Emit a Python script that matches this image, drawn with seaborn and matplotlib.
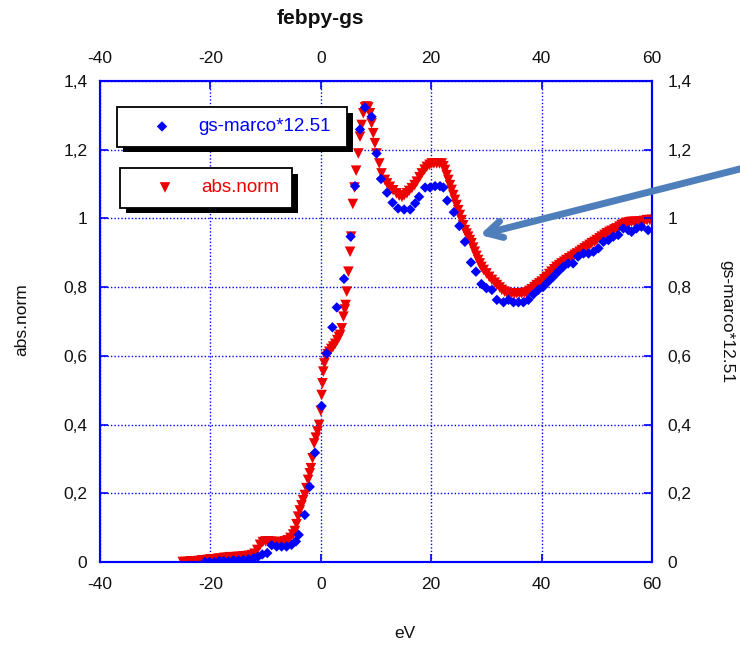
import matplotlib
matplotlib.use("Agg")
import matplotlib.pyplot as plt
import matplotlib.patheffects as pe
import seaborn as sns
import pandas as pd

# ---------------- data ----------------
red_ev = [-25.0, -24.5, -24.0, -23.5, -23.0, -22.5, -22.0, -21.5, -21.0, -20.5, -20.0, -19.5,
          -19.0, -18.5, -18.0, -17.5, -17.0, -16.5, -16.0, -15.5, -15.0, -14.5, -14.0, -13.5,
          -13.0, -12.5, -12.0, -11.5, -11.0, -10.5, -10.0, -9.5, -9.0, -8.5, -8.0, -7.5, -7.0,
          -6.5, -6.0, -5.5, -5.0, -4.7, -4.4, -4.1, -3.8, -3.5, -3.2, -2.9, -2.6, -2.3, -2.0,
          -1.8, -1.5, -1.2, -0.9, -0.6, -0.3, 0.0, 0.15, 0.3, 0.45, 0.65, 0.95, 1.25, 1.55, 1.9,
          2.25, 2.6, 3.0, 3.3, 3.5, 3.8, 4.1, 4.35, 4.5, 4.7, 5.0, 5.3, 5.5, 5.8, 6.1, 6.4, 6.8,
          7.1, 7.4, 7.7, 8.0, 8.3, 8.6, 8.9, 9.2, 9.5, 9.8, 10.1, 10.6, 11.0, 11.6, 12.0, 12.5,
          13.1, 13.7, 14.2, 14.7, 15.1, 15.6, 16.0, 16.5, 17.0, 17.4, 17.9, 18.3, 18.8, 19.2,
          19.7, 20.1, 20.5, 21.0, 21.5, 21.9, 22.2, 22.5, 22.8, 23.1, 23.4, 23.7, 24.0, 24.3,
          24.6, 24.9, 25.2, 25.5, 25.8, 26.1, 26.4, 26.7, 27.0, 27.3, 27.6, 27.9, 28.2, 28.5,
          28.8, 29.1, 29.5, 30.0, 30.5, 31.0, 31.5, 31.9, 32.4, 32.8, 33.3, 33.7, 34.2, 34.6,
          35.1, 35.5, 36.0, 36.4, 36.9, 37.3, 37.8, 38.2, 38.7, 39.1, 39.6, 40.0, 40.5, 40.9,
          41.4, 41.8, 42.3, 42.7, 43.2, 43.6, 44.1, 44.5, 45.0, 45.5, 46.0, 46.4, 46.9, 47.3,
          47.8, 48.2, 48.7, 49.1, 49.6, 50.0, 50.5, 50.9, 51.4, 51.8, 52.3, 52.7, 53.2, 53.6,
          54.1, 54.5, 55.0, 55.4, 55.9, 56.3, 56.8, 57.2, 57.7, 58.1, 58.6, 59.1, 59.6, 60.0]
red_abs = [0.0, 0.0, 0.0, 0.002, 0.002, 0.0, 0.003, 0.005, 0.005, 0.006, 0.008, 0.008,
           0.008, 0.010, 0.010, 0.012, 0.012, 0.014, 0.013, 0.014, 0.015, 0.015, 0.016, 0.017,
           0.018, 0.020, 0.024, 0.035, 0.050, 0.058, 0.060, 0.060, 0.059, 0.058, 0.058, 0.057, 0.058,
           0.060, 0.063, 0.070, 0.080, 0.090, 0.110, 0.132, 0.150, 0.165, 0.180, 0.195, 0.215, 0.239, 0.258,
           0.273, 0.302, 0.345, 0.362, 0.380, 0.399, 0.440, 0.486, 0.520, 0.554, 0.578, 0.597, 0.605, 0.612, 0.620,
           0.627, 0.635, 0.646, 0.655, 0.661, 0.680, 0.714, 0.735, 0.748, 0.787, 0.845, 0.903, 0.947, 1.042, 1.090, 1.139, 1.189,
           1.238, 1.272, 1.306, 1.323, 1.326, 1.323, 1.306, 1.277, 1.248, 1.219, 1.189, 1.160, 1.131, 1.112, 1.102, 1.092,
           1.082, 1.073, 1.066, 1.063, 1.067, 1.073, 1.080, 1.088, 1.097, 1.107, 1.120, 1.131, 1.142, 1.150,
           1.156, 1.160, 1.160, 1.160, 1.160, 1.160, 1.152, 1.141, 1.126, 1.112, 1.097, 1.083, 1.068, 1.054,
           1.039, 1.024, 1.010, 0.995, 0.980, 0.966, 0.956, 0.947, 0.937, 0.928, 0.915, 0.903, 0.891, 0.879,
           0.869, 0.859, 0.850, 0.840, 0.830, 0.821, 0.813, 0.806, 0.799, 0.792, 0.787, 0.784, 0.782, 0.782,
           0.782, 0.782, 0.782, 0.782, 0.783, 0.784, 0.789, 0.794, 0.800, 0.806, 0.811, 0.816, 0.823, 0.830,
           0.838, 0.845, 0.852, 0.859, 0.864, 0.869, 0.874, 0.879, 0.884, 0.889, 0.894, 0.898, 0.903, 0.908,
           0.913, 0.918, 0.923, 0.928, 0.932, 0.937, 0.942, 0.947, 0.952, 0.957, 0.961, 0.964, 0.968, 0.971,
           0.976, 0.981, 0.984, 0.987, 0.989, 0.990, 0.990, 0.990, 0.991, 0.991, 0.993, 0.995, 0.995, 0.996]

blue_ev = [-21.0, -20.2, -19.3, -18.4, -17.6, -16.7, -15.8, -14.9, -14.0, -13.1, -12.2, -11.4,
           -10.6, -9.7, -8.9, -8.0, -7.1, -6.2, -5.3, -4.5, -4.0, -2.9, -2.0, -1.05, 0.15, 1.07,
           2.1, 2.9, 4.2, 5.4, 6.2, 7.1, 8.0, 9.2, 10.1, 10.9, 12.0, 13.0, 14.0, 15.1, 16.2, 17.1,
           17.8, 18.9, 19.8, 20.7, 21.6, 22.2, 22.9, 24.1, 25.1, 26.1, 27.2, 28.1, 29.1, 30.0,
           31.0, 31.9, 33.1, 34.0, 34.9, 35.8, 36.7, 37.6, 38.5, 39.4, 40.3, 41.2, 42.1, 43.0,
           43.9, 44.8, 45.7, 46.6, 47.6, 48.5, 49.4, 50.3, 51.2, 52.1, 53.0, 53.9, 54.8, 55.7,
           56.3, 57.2, 58.1, 59.3]
blue_gs = [0.0, 0.0, 0.0, 0.003, 0.003, 0.002, 0.005, 0.005, 0.006, 0.008, 0.011, 0.015,
           0.022, 0.026, 0.049, 0.045, 0.045, 0.045, 0.050, 0.060, 0.079, 0.137, 0.219, 0.318, 0.454, 0.607,
           0.683, 0.741, 0.824, 0.947, 1.094, 1.259, 1.323, 1.296, 1.189, 1.115, 1.075, 1.046, 1.029, 1.026, 1.026, 1.044,
           1.063, 1.090, 1.090, 1.094, 1.094, 1.090, 1.052, 1.018, 0.978, 0.932, 0.872, 0.845, 0.809, 0.797,
           0.792, 0.763, 0.756, 0.763, 0.756, 0.756, 0.756, 0.763, 0.779, 0.792, 0.801, 0.816, 0.830, 0.845,
           0.859, 0.869, 0.869, 0.889, 0.898, 0.898, 0.903, 0.913, 0.932, 0.937, 0.947, 0.952, 0.971, 0.966,
           0.961, 0.971, 0.976, 0.966]

x_ticks = [-40, -20, 0, 20, 40, 60]
x_ticklabels = ["-40", "-20", "0", "20", "40", "60"]
y_ticks = [0.0, 0.2, 0.4, 0.6, 0.8, 1.0, 1.2, 1.4]
y_ticklabels = ["0", "0,2", "0,4", "0,6", "0,8", "1", "1,2", "1,4"]

title = "febpy-gs"
xlabel = "eV"
ylabel_left = "abs.norm"
ylabel_right = "gs-marco*12.51"

# ---------------- style ----------------
sns.set_style("white")
plt.rcParams["font.family"] = ["Liberation Sans", "DejaVu Sans"]
plt.rcParams["axes.unicode_minus"] = False

red_df = pd.DataFrame({"eV": red_ev, "val": red_abs})
blue_df = pd.DataFrame({"eV": blue_ev, "val": blue_gs})

W, H = 740, 645
fig = plt.figure(figsize=(W / 100, H / 100), dpi=100)
ax = fig.add_axes([100 / W, 1 - 562 / H, 552 / W, 481 / H])
ax2 = ax.twinx()

BLUE = "#0000ff"
RED = "#ee0000"

sns.scatterplot(data=red_df, x="eV", y="val", ax=ax, marker="v", s=58, color=RED,
                edgecolor="none", linewidth=0, label=ylabel_left, zorder=3)
sns.scatterplot(data=blue_df, x="eV", y="val", ax=ax2, marker="D", s=28, color=BLUE,
                edgecolor="none", linewidth=0, label=ylabel_right, zorder=4)

for a in (ax, ax2):
    a.set_xlim(-40, 60)
    a.set_ylim(0, 1.4)
    a.set_yticks(y_ticks)
    a.set_yticklabels(y_ticklabels)
    a.set_xlabel("")
    a.set_ylabel("")
    for sp in a.spines.values():
        sp.set_color(BLUE)
        sp.set_linewidth(1.5)

ax.set_xticks(x_ticks)
ax.set_xticklabels(x_ticklabels)
ax.patch.set_alpha(0)
ax2.patch.set_alpha(0)

ax.grid(True, color=BLUE, linestyle=(0, (1, 1.5)), linewidth=1.0)
ax.set_axisbelow(True)
ax2.grid(False)

ax.tick_params(axis="x", which="both", direction="in", length=6, color=BLUE, width=1.2,
               top=True, bottom=True, labeltop=True, labelbottom=True, labelsize=12.5,
               pad=11, labelcolor="#111111")
ax.tick_params(axis="y", direction="in", length=6, color=BLUE, width=1.2, left=True,
               right=False, labelleft=True, labelsize=12.5, pad=9, labelcolor="#111111")
ax2.tick_params(axis="y", direction="in", length=6, color=BLUE, width=1.2, right=True,
                left=False, labelright=True, labelleft=False, labelsize=12.5, pad=11,
                labelcolor="#111111")

# legends (two separate boxes with black drop shadows)
def make_legend(a, bbox, color):
    leg = a.legend(loc="upper left", bbox_to_anchor=bbox, mode="expand", fancybox=False,
                   frameon=True, edgecolor="black", framealpha=1, fontsize=13.5,
                   handlelength=3.6, handletextpad=0.15, borderpad=0.6, borderaxespad=0,
                   markerscale=1.0)
    leg.get_frame().set_linewidth(1.3)
    leg.get_frame().set_path_effects([
        pe.SimplePatchShadow(offset=(4, -4), shadow_rgbFace="black", alpha=1.0),
        pe.Normal()])
    for t in leg.get_texts():
        t.set_color(color)
    leg.set_zorder(10)
    return leg

make_legend(ax2, (17 / 552, (562 - 107) / 481, 230 / 552, 0.0), BLUE)
make_legend(ax, (20 / 552, (562 - 168) / 481, 172 / 552, 0.0), RED)

# texts
fig.text(320 / W, 1 - 18 / H, title, ha="center", va="center", fontsize=15,
         fontweight="bold", color="#111111")
fig.text(405 / W, 1 - 634 / H, xlabel, ha="center", va="center", fontsize=12.5, color="#111111")
fig.text(22 / W, 1 - 320 / H, ylabel_left, ha="center", va="center", rotation=90,
         fontsize=12.5, color="#111111")
fig.text(727 / W, 1 - 322 / H, ylabel_right, ha="center", va="center", rotation=270,
         fontsize=12.5, color="#111111")

# arrow annotation
ax2.annotate("", xy=(28.8, 0.952), xycoords="data",
             xytext=(1.005, 1 - 168 / H), textcoords="figure fraction",
             arrowprops=dict(arrowstyle="->,head_length=1.1,head_width=0.6",
                             color="#4f7fbb", lw=5, shrinkA=0, shrinkB=0),
             annotation_clip=False, zorder=12)

fig.savefig("out.png", dpi=100)
